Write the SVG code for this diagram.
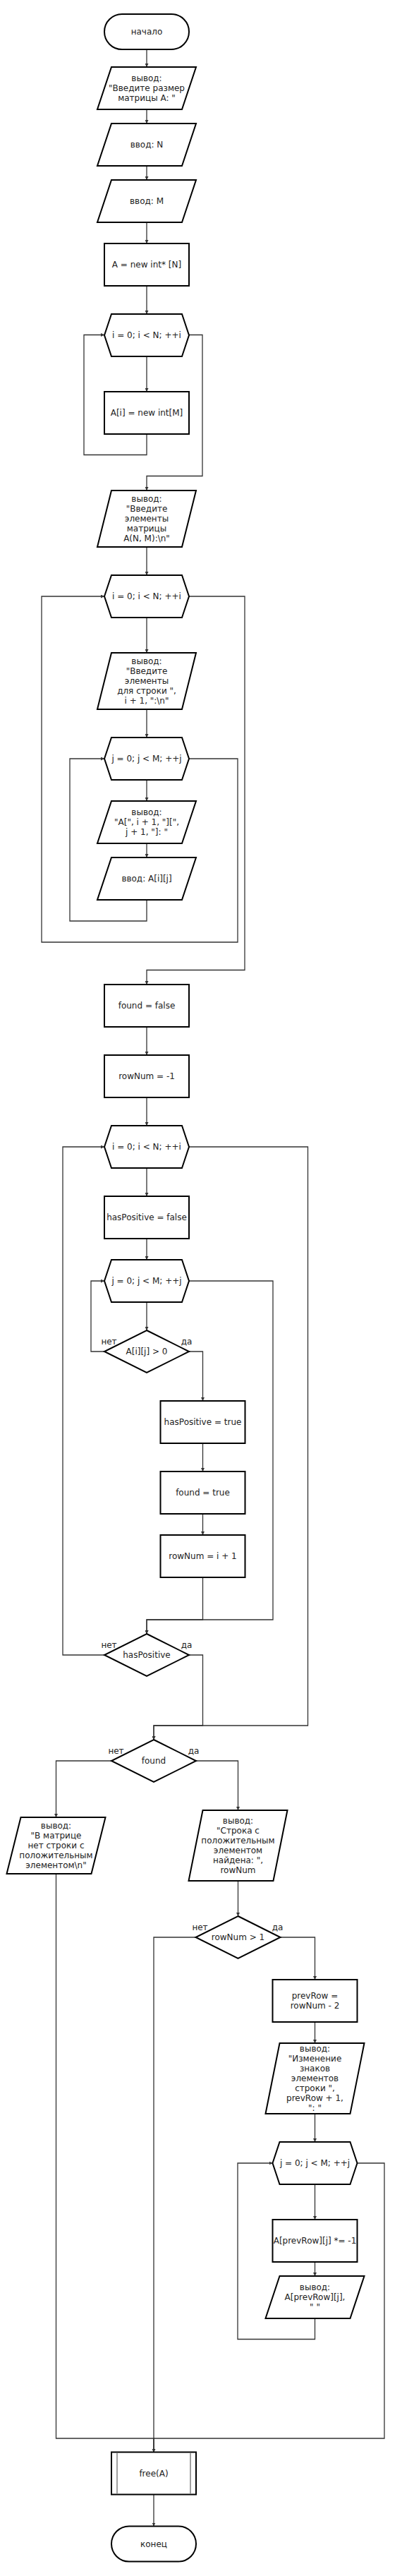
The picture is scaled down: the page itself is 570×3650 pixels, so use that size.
<svg xmlns="http://www.w3.org/2000/svg" width="570" height="3650" viewBox="0 0 570 3650">
<style>
.s{fill:#fff;stroke:#000;stroke-width:2}
.e{fill:none;stroke:#333;stroke-width:1.3}
.t{font-family:"DejaVu Sans","Liberation Sans",Arial,sans-serif;font-size:12px;fill:#222;text-anchor:middle}
.il{stroke:#808080;stroke-width:1.5}
</style>
<defs>
<marker id="a" viewBox="0 0 6 6" refX="6" refY="3" markerWidth="5" markerHeight="5" markerUnits="userSpaceOnUse" orient="auto">
<path d="M0,0 L6,3 L0,6 z" fill="#333"/>
</marker>
</defs>
<rect width="570" height="3650" fill="#fff"/>

<g id="connectors">
<path class="e" marker-end="url(#a)" d="M208,70 V95"/>
<path class="e" marker-end="url(#a)" d="M208,155 V175"/>
<path class="e" marker-end="url(#a)" d="M208,235 V255"/>
<path class="e" marker-end="url(#a)" d="M208,315 V345"/>
<path class="e" marker-end="url(#a)" d="M208,405 V445"/>
<path class="e" marker-end="url(#a)" d="M208,505 V555"/>
<path class="e" marker-end="url(#a)" d="M208,615 V644.5 H119 V474.5 H148"/>
<path class="e" marker-end="url(#a)" d="M268,474.5 H287 V674.5 H208 V695"/>
<path class="e" marker-end="url(#a)" d="M208,775 V815"/>
<path class="e" marker-end="url(#a)" d="M208,875 V925"/>
<path class="e" marker-end="url(#a)" d="M208,1005 V1045"/>
<path class="e" marker-end="url(#a)" d="M208,1105 V1135"/>
<path class="e" marker-end="url(#a)" d="M208,1195 V1215"/>
<path class="e" marker-end="url(#a)" d="M208,1275 V1305 H99 V1075 H148"/>
<path class="e" marker-end="url(#a)" d="M268,1075 H337 V1335 H59 V845 H148"/>
<path class="e" marker-end="url(#a)" d="M268,845 H347 V1374.5 H208 V1395"/>
<path class="e" marker-end="url(#a)" d="M208,1455 V1495"/>
<path class="e" marker-end="url(#a)" d="M208,1555 V1595"/>
<path class="e" marker-end="url(#a)" d="M208,1655 V1695"/>
<path class="e" marker-end="url(#a)" d="M208,1755 V1785"/>
<path class="e" marker-end="url(#a)" d="M208,1845 V1885"/>
<path class="e" marker-end="url(#a)" d="M148,1915 H129 V1815 H148"/>
<path class="e" marker-end="url(#a)" d="M268,1915 H287.5 V1985"/>
<path class="e" marker-end="url(#a)" d="M287.5,2045 V2085"/>
<path class="e" marker-end="url(#a)" d="M287.5,2145 V2175"/>
<path class="e" marker-end="url(#a)" d="M287.5,2235 V2295 H208 V2315"/>
<path class="e" marker-end="url(#a)" d="M268,1815 H387 V2295 H208 V2315"/>
<path class="e" marker-end="url(#a)" d="M148,2345 H89 V1625 H148"/>
<path class="e" marker-end="url(#a)" d="M268,2345 H287.5 V2445 H218 V2465"/>
<path class="e" marker-end="url(#a)" d="M268,1625 H436.5 V2445 H218 V2465"/>
<path class="e" marker-end="url(#a)" d="M158,2495 H79.5 V2575"/>
<path class="e" marker-end="url(#a)" d="M278,2495 H337.5 V2565"/>
<path class="e" marker-end="url(#a)" d="M337.5,2665 V2715"/>
<path class="e" marker-end="url(#a)" d="M277.5,2745 H218 V3474.5"/>
<path class="e" marker-end="url(#a)" d="M397.5,2745 H446.5 V2805"/>
<path class="e" marker-end="url(#a)" d="M446.5,2865 V2895"/>
<path class="e" marker-end="url(#a)" d="M446.5,2995 V3035"/>
<path class="e" marker-end="url(#a)" d="M446.5,3095 V3145"/>
<path class="e" marker-end="url(#a)" d="M446.5,3205 V3225"/>
<path class="e" marker-end="url(#a)" d="M446.5,3285 V3314.5 H337 V3065 H386.5"/>
<path class="e" marker-end="url(#a)" d="M506.5,3065 H545 V3455 H218 V3474.5"/>
<path class="e" marker-end="url(#a)" d="M79.5,2655 V3455 H218 V3474.5"/>
<path class="e" marker-end="url(#a)" d="M218,3535 V3579.5"/>
<text class="t" x="154.5" y="1905">нет</text>
<text class="t" x="264.5" y="1905">да</text>
<text class="t" x="154.5" y="2335">нет</text>
<text class="t" x="264.5" y="2335">да</text>
<text class="t" x="164.5" y="2485">нет</text>
<text class="t" x="274.5" y="2485">да</text>
<text class="t" x="283.5" y="2735">нет</text>
<text class="t" x="393.5" y="2735">да</text>
</g>

<g id="n_start"><rect class="s" x="148" y="20" width="120" height="50" rx="25"/><text class="t" x="208" y="49.2">начало</text></g>

<g id="n_out1"><polygon class="s" points="158,95 278,95 258,155 138,155"/>
<text class="t"><tspan x="208" y="115.2">вывод:</tspan><tspan x="208" y="129.2">"Введите размер</tspan><tspan x="208" y="143.2">матрицы A: "</tspan></text></g>

<g id="n_inN"><polygon class="s" points="158,175 278,175 258,235 138,235"/><text class="t" x="208" y="209.2">ввод: N</text></g>

<g id="n_inM"><polygon class="s" points="158,255 278,255 258,315 138,315"/><text class="t" x="208" y="289.2">ввод: M</text></g>

<g id="n_allocA"><rect class="s" x="148" y="345" width="120" height="60"/><text class="t" x="208" y="379.2">A = new int* [N]</text></g>

<g id="n_loop1"><polygon class="s" points="148,475 158,445 258,445 268,475 258,505 158,505"/><text class="t" x="208" y="479.2">i = 0; i &lt; N; ++i</text></g>

<g id="n_allocRow"><rect class="s" x="148" y="555" width="120" height="60"/><text class="t" x="208" y="589.2">A[i] = new int[M]</text></g>

<g id="n_out2"><polygon class="s" points="158,695 278,695 258,775 138,775"/>
<text class="t"><tspan x="208" y="711.2">вывод:</tspan><tspan x="208" y="725.2">"Введите</tspan><tspan x="208" y="739.2">элементы</tspan><tspan x="208" y="753.2">матрицы</tspan><tspan x="208" y="767.2">A(N, M):\n"</tspan></text></g>

<g id="n_loop2"><polygon class="s" points="148,845 158,815 258,815 268,845 258,875 158,875"/><text class="t" x="208" y="849.2">i = 0; i &lt; N; ++i</text></g>

<g id="n_out3"><polygon class="s" points="158,925 278,925 258,1005 138,1005"/>
<text class="t"><tspan x="208" y="941.2">вывод:</tspan><tspan x="208" y="955.2">"Введите</tspan><tspan x="208" y="969.2">элементы</tspan><tspan x="208" y="983.2">для строки ",</tspan><tspan x="208" y="997.2">i + 1, ":\n"</tspan></text></g>

<g id="n_loop3"><polygon class="s" points="148,1075 158,1045 258,1045 268,1075 258,1105 158,1105"/><text class="t" x="208" y="1079.2">j = 0; j &lt; M; ++j</text></g>

<g id="n_out4"><polygon class="s" points="158,1135 278,1135 258,1195 138,1195"/>
<text class="t"><tspan x="208" y="1155.2">вывод:</tspan><tspan x="208" y="1169.2">"A[", i + 1, "][",</tspan><tspan x="208" y="1183.2">j + 1, "]: "</tspan></text></g>

<g id="n_inA"><polygon class="s" points="158,1215 278,1215 258,1275 138,1275"/><text class="t" x="208" y="1249.2">ввод: A[i][j]</text></g>

<g id="n_foundFalse"><rect class="s" x="148" y="1395" width="120" height="60"/><text class="t" x="208" y="1429.2">found = false</text></g>

<g id="n_rowNumInit"><rect class="s" x="148" y="1495" width="120" height="60"/><text class="t" x="208" y="1529.2">rowNum = -1</text></g>

<g id="n_loop4"><polygon class="s" points="148,1625 158,1595 258,1595 268,1625 258,1655 158,1655"/><text class="t" x="208" y="1629.2">i = 0; i &lt; N; ++i</text></g>

<g id="n_hasPosFalse"><rect class="s" x="148" y="1695" width="120" height="60"/><text class="t" x="208" y="1729.2">hasPositive = false</text></g>

<g id="n_loop5"><polygon class="s" points="148,1815 158,1785 258,1785 268,1815 258,1845 158,1845"/><text class="t" x="208" y="1819.2">j = 0; j &lt; M; ++j</text></g>

<g id="n_cond1"><polygon class="s" points="208,1885 268,1915 208,1945 148,1915"/><text class="t" x="208" y="1919.2">A[i][j] &gt; 0</text></g>

<g id="n_hasPosTrue"><rect class="s" x="227.5" y="1985" width="120" height="60"/><text class="t" x="287.5" y="2019.2">hasPositive = true</text></g>

<g id="n_foundTrue"><rect class="s" x="227.5" y="2085" width="120" height="60"/><text class="t" x="287.5" y="2119.2">found = true</text></g>

<g id="n_rowNumSet"><rect class="s" x="227.5" y="2175" width="120" height="60"/><text class="t" x="287.5" y="2209.2">rowNum = i + 1</text></g>

<g id="n_cond2"><polygon class="s" points="208,2315 268,2345 208,2375 148,2345"/><text class="t" x="208" y="2349.2">hasPositive</text></g>

<g id="n_cond3"><polygon class="s" points="218,2465 278,2495 218,2525 158,2495"/><text class="t" x="218" y="2499.2">found</text></g>

<g id="n_outNone"><polygon class="s" points="29.5,2575 149.5,2575 129.5,2655 9.5,2655"/>
<text class="t"><tspan x="79.5" y="2591.2">вывод:</tspan><tspan x="79.5" y="2605.2">"В матрице</tspan><tspan x="79.5" y="2619.2">нет строки с</tspan><tspan x="79.5" y="2633.2">положительным</tspan><tspan x="79.5" y="2647.2">элементом\n"</tspan></text></g>

<g id="n_outFound"><polygon class="s" points="287.5,2565 407.5,2565 387.5,2665 267.5,2665"/>
<text class="t"><tspan x="337.5" y="2584.2">вывод:</tspan><tspan x="337.5" y="2598.2">"Строка с</tspan><tspan x="337.5" y="2612.2">положительным</tspan><tspan x="337.5" y="2626.2">элементом</tspan><tspan x="337.5" y="2640.2">найдена: ",</tspan><tspan x="337.5" y="2654.2">rowNum</tspan></text></g>

<g id="n_cond4"><polygon class="s" points="337.5,2715 397.5,2745 337.5,2775 277.5,2745"/><text class="t" x="337.5" y="2749.2">rowNum &gt; 1</text></g>

<g id="n_prevRow"><rect class="s" x="386.5" y="2805" width="120" height="60"/>
<text class="t"><tspan x="446.5" y="2832.2">prevRow =</tspan><tspan x="446.5" y="2846.2">rowNum - 2</tspan></text></g>

<g id="n_outChange"><polygon class="s" points="396.5,2895 516.5,2895 496.5,2995 376.5,2995"/>
<text class="t"><tspan x="446.5" y="2907.2">вывод:</tspan><tspan x="446.5" y="2921.2">"Изменение</tspan><tspan x="446.5" y="2935.2">знаков</tspan><tspan x="446.5" y="2949.2">элементов</tspan><tspan x="446.5" y="2963.2">строки ",</tspan><tspan x="446.5" y="2977.2">prevRow + 1,</tspan><tspan x="446.5" y="2991.2">": "</tspan></text></g>

<g id="n_loop6"><polygon class="s" points="386.5,3065 396.5,3035 496.5,3035 506.5,3065 496.5,3095 396.5,3095"/><text class="t" x="446.5" y="3069.2">j = 0; j &lt; M; ++j</text></g>

<g id="n_negate"><rect class="s" x="386.5" y="3145" width="120" height="60"/><text class="t" x="446.5" y="3179.2">A[prevRow][j] *= -1</text></g>

<g id="n_outElem"><polygon class="s" points="396.5,3225 516.5,3225 496.5,3285 376.5,3285"/>
<text class="t"><tspan x="446.5" y="3245.2">вывод:</tspan><tspan x="446.5" y="3259.2">A[prevRow][j],</tspan><tspan x="446.5" y="3273.2">" "</tspan></text></g>

<g id="n_free"><rect class="s" x="158" y="3474.5" width="120" height="60"/><line class="il" x1="166" y1="3475.5" x2="166" y2="3533.5"/><line class="il" x1="270" y1="3475.5" x2="270" y2="3533.5"/><text class="t" x="218" y="3508.7">free(A)</text></g>

<g id="n_end"><rect class="s" x="158" y="3579.5" width="120" height="50" rx="25"/><text class="t" x="218" y="3608.7">конец</text></g>
</svg>
